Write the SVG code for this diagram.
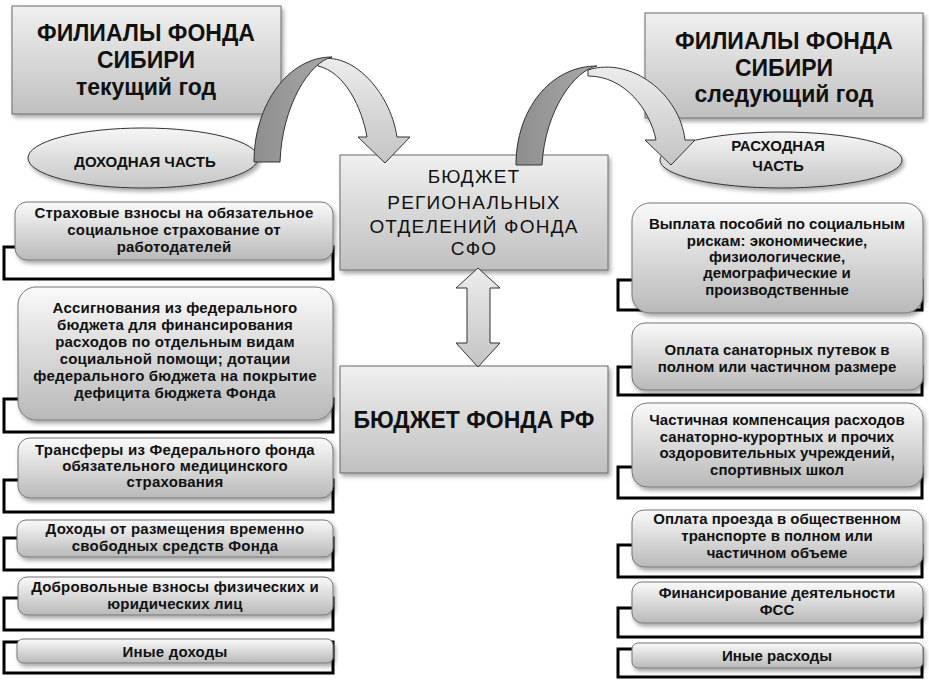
<svg xmlns="http://www.w3.org/2000/svg" width="929" height="685" viewBox="0 0 929 685">
<defs>
<linearGradient id="gBox" x1="0" y1="0" x2="0" y2="1"><stop offset="0" stop-color="#f0f0f0"/><stop offset="1" stop-color="#c0c0c0"/></linearGradient>
<linearGradient id="gItem" x1="0" y1="0" x2="0" y2="1"><stop offset="0" stop-color="#fafafa"/><stop offset="1" stop-color="#b9b9b9"/></linearGradient>
<linearGradient id="gEll" x1="0" y1="0" x2="0" y2="1"><stop offset="0" stop-color="#f6f6f6"/><stop offset="1" stop-color="#c6c6c6"/></linearGradient>
<linearGradient id="gDark" x1="0" y1="0" x2="1" y2="0"><stop offset="0" stop-color="#8e8e8e"/><stop offset="1" stop-color="#a9a9a9"/></linearGradient>
<linearGradient id="gLight" x1="0" y1="0" x2="0" y2="1"><stop offset="0" stop-color="#ececec"/><stop offset="1" stop-color="#c4c4c4"/></linearGradient>
<filter id="sh" x="-10%" y="-10%" width="125%" height="140%"><feDropShadow dx="2" dy="3" stdDeviation="2" flood-color="#000" flood-opacity="0.35"/></filter>
<style>
.hdr{fill:url(#gBox);stroke:#6a6a6a;stroke-width:1;filter:url(#sh)}
.item{fill:url(#gItem);stroke:#777;stroke-width:1;filter:url(#sh)}
.brk{fill:none;stroke:#000;stroke-width:3}
.ell{fill:url(#gEll);stroke:#333;stroke-width:1;filter:url(#sh)}
.arcD{fill:url(#gDark);stroke:#333;stroke-width:1}
.arcL{fill:url(#gLight);stroke:#333;stroke-width:1}
.t{font-family:"Liberation Sans",Arial,sans-serif;font-weight:bold;text-anchor:middle;fill:#111}
.s{font-size:15px;letter-spacing:0.2px}
.r{font-size:15px}
.h{font-size:23px}
.e{font-size:15px}
.c{font-size:19px;font-weight:normal;letter-spacing:1.2px}
</style>
</defs>
<rect width="929" height="685" fill="#fff"/>

<g id="header-left">
<rect class="hdr" x="12" y="6" width="269" height="108"/>
<text class="t h" x="146" y="41">ФИЛИАЛЫ ФОНДА</text>
<text class="t h" x="146" y="68">СИБИРИ</text>
<text class="t h" x="146" y="95">текущий год</text>
</g>

<g id="header-right">
<rect class="hdr" x="645" y="13" width="278" height="105"/>
<text class="t h" x="784" y="49">ФИЛИАЛЫ ФОНДА</text>
<text class="t h" x="784" y="76">СИБИРИ</text>
<text class="t h" x="784" y="102">следующий год</text>
</g>

<g id="income-ellipse">
<ellipse class="ell" cx="143" cy="158" rx="115" ry="30"/>
<text class="t e" x="145" y="167">ДОХОДНАЯ ЧАСТЬ</text>
</g>

<g id="expense-ellipse">
<ellipse class="ell" cx="781" cy="160" rx="121" ry="28"/>
<text class="t e" x="778" y="151">РАСХОДНАЯ</text>
<text class="t e" x="778" y="171">ЧАСТЬ</text>
</g>

<g id="regional-budget">
<rect class="hdr" x="340" y="155" width="268" height="115"/>
<text class="t c" x="474" y="183">БЮДЖЕТ</text>
<text class="t c" x="474" y="209">РЕГИОНАЛЬНЫХ</text>
<text class="t c" x="474" y="233">ОТДЕЛЕНИЙ ФОНДА</text>
<text class="t c" x="474" y="255">СФО</text>
</g>

<g id="federal-budget">
<rect class="hdr" x="340" y="366" width="268" height="107"/>
<text class="t" style="font-size:23px" x="474" y="428">БЮДЖЕТ ФОНДА РФ</text>
</g>

<g id="connectors">
<path class="arcL" d="M318,60 C350,50 390,90 397,137 L410,137 L385,163 L358,137 L367,137 C362,108 345,72 318,66 Z"/>
<path class="arcD" d="M254,162 C254,105 288,57 332,57 C310,62 282,105 280,162 Z"/>
<path class="arcL" d="M588,70 C632,56 680,95 685,140 L695,140 L671,165 L645,140 L656,140 C650,110 625,76 588,76 Z"/>
<path class="arcD" d="M516,165 C516,110 550,66 597,66 C575,70 545,110 542,165 Z"/>
<path class="arcL" d="M478,268 L500,288 L490,288 L490,343 L500,343 L478,367 L456,343 L467,343 L467,288 L456,288 Z"/>
</g>

<g id="income-1">
<rect class="brk" x="4" y="247" width="329" height="32"/>
<rect class="item" x="15" y="202" width="318" height="58" rx="12"/>
<text class="t s" x="174" y="218">Страховые взносы на обязательное</text>
<text class="t s" x="174" y="235">социальное страхование от</text>
<text class="t s" x="174" y="252">работодателей</text>
</g>
<g id="income-2">
<rect class="brk" x="4" y="399" width="329" height="33"/>
<rect class="item" x="18" y="287" width="315" height="133" rx="18"/>
<text class="t s" x="175" y="313">Ассигнования из федерального</text>
<text class="t s" x="175" y="330">бюджета для финансирования</text>
<text class="t s" x="175" y="347">расходов по отдельным видам</text>
<text class="t s" x="175" y="364">социальной помощи; дотации</text>
<text class="t s" x="175" y="381">федерального бюджета на покрытие</text>
<text class="t s" x="175" y="398">дефицита бюджета Фонда</text>
</g>
<g id="income-3">
<rect class="brk" x="4" y="480" width="329" height="32"/>
<rect class="item" x="18" y="438" width="315" height="60" rx="12"/>
<text class="t s" x="175" y="455">Трансферы из Федерального фонда</text>
<text class="t s" x="175" y="471">обязательного медицинского</text>
<text class="t s" x="175" y="487">страхования</text>
</g>
<g id="income-4">
<rect class="brk" x="4" y="538" width="329" height="32"/>
<rect class="item" x="17" y="520" width="316" height="37" rx="9"/>
<text class="t s" x="175" y="534">Доходы от размещения временно</text>
<text class="t s" x="175" y="551">свободных средств Фонда</text>
</g>
<g id="income-5">
<rect class="brk" x="4" y="598" width="329" height="32"/>
<rect class="item" x="18" y="577" width="315" height="38" rx="9"/>
<text class="t s" x="175" y="592">Добровольные взносы физических и</text>
<text class="t s" x="175" y="609">юридических лиц</text>
</g>
<g id="income-6">
<rect class="brk" x="4" y="642" width="329" height="31"/>
<rect class="item" x="17" y="639" width="316" height="24" rx="6"/>
<text class="t s" x="175" y="657">Иные доходы</text>
</g>

<g id="expense-1">
<rect class="brk" x="618" y="280" width="304" height="30"/>
<rect class="item" x="632" y="203" width="291" height="110" rx="18"/>
<text class="t r" x="777" y="229">Выплата пособий по социальным</text>
<text class="t r" x="777" y="246">рискам: экономические,</text>
<text class="t r" x="777" y="262">физиологические,</text>
<text class="t r" x="777" y="278">демографические и</text>
<text class="t r" x="777" y="295">производственные</text>
</g>
<g id="expense-2">
<rect class="brk" x="618" y="367" width="304" height="28"/>
<rect class="item" x="632" y="323" width="291" height="67" rx="13"/>
<text class="t r" x="777" y="355">Оплата санаторных путевок в</text>
<text class="t r" x="777" y="372">полном или частичном размере</text>
</g>
<g id="expense-3">
<rect class="brk" x="618" y="467" width="304" height="31"/>
<rect class="item" x="632" y="403" width="291" height="84" rx="15"/>
<text class="t r" x="777" y="425">Частичная компенсация расходов</text>
<text class="t r" x="777" y="442">санаторно-курортных и прочих</text>
<text class="t r" x="777" y="458">оздоровительных учреждений,</text>
<text class="t r" x="777" y="475">спортивных школ</text>
</g>
<g id="expense-4">
<rect class="brk" x="618" y="545" width="304" height="32"/>
<rect class="item" x="632" y="510" width="291" height="57" rx="12"/>
<text class="t r" x="777" y="524">Оплата проезда в общественном</text>
<text class="t r" x="777" y="541">транспорте в полном или</text>
<text class="t r" x="777" y="558">частичном объеме</text>
</g>
<g id="expense-5">
<rect class="brk" x="618" y="608" width="304" height="29"/>
<rect class="item" x="632" y="582" width="291" height="41" rx="10"/>
<text class="t r" x="777" y="598">Финансирование деятельности</text>
<text class="t r" x="777" y="615">ФСС</text>
</g>
<g id="expense-6">
<rect class="brk" x="618" y="649" width="304" height="28"/>
<rect class="item" x="632" y="643" width="291" height="25" rx="6"/>
<text class="t r" x="777" y="661">Иные расходы</text>
</g>
</svg>
